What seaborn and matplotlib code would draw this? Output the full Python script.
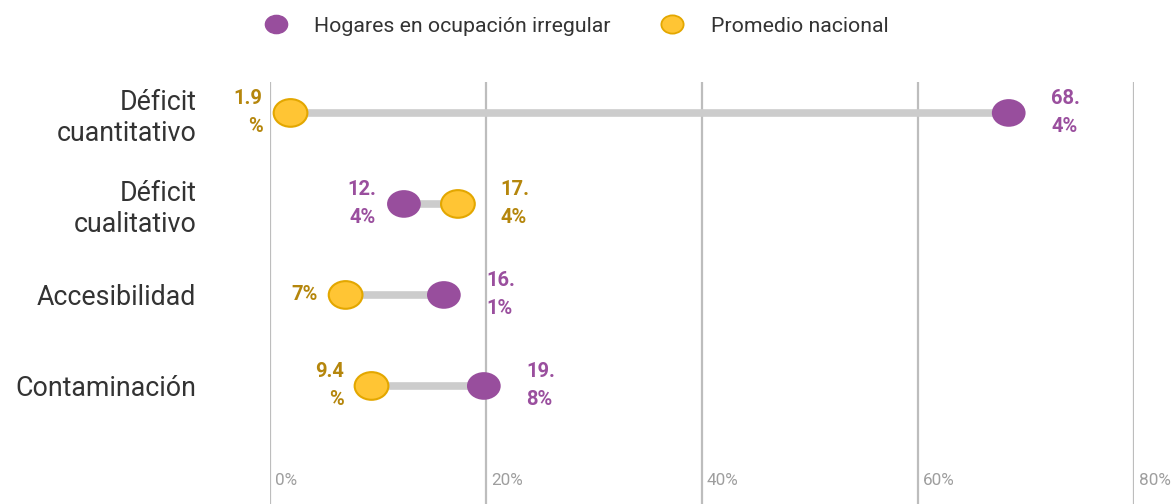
import numpy as np
import pandas as pd
import seaborn as sns
import matplotlib.pyplot as plt
from matplotlib.path import Path
from matplotlib.transforms import Affine2D
from matplotlib.lines import Line2D

# datos
categorias = ['Déficit\ncuantitativo', 'Déficit\ncualitativo', 'Accesibilidad', 'Contaminación']
hogares_irregular = [68.4, 12.4, 16.1, 19.8]
promedio_nacional = [1.9, 17.4, 7.0, 9.4]
series = ['Hogares en ocupación irregular', 'Promedio nacional']
x_ticks = [0, 20, 40, 60, 80]

PURPLE = '#984E9D'
PURPLE_TXT = '#9A4F9E'
YELLOW = '#FFC534'
YELLOW_EDGE = '#E3A700'
GOLD_TXT = '#B5860C'

sns.set_theme(style='white')
plt.rcParams['font.family'] = ['Roboto', 'DejaVu Sans']

df = pd.DataFrame({
    'cat': categorias * 2,
    'pos': list(range(len(categorias))) * 2,
    'valor': hogares_irregular + promedio_nacional,
    'serie': [series[0]] * len(categorias) + [series[1]] * len(categorias),
})

# marcador eliptico
ellipse = Path(Affine2D().scale(1.22, 1.0).transform(Path.unit_circle().vertices),
               Path.unit_circle().codes)

fig = plt.figure(figsize=(11.76, 5.04), dpi=100)
ax = fig.add_axes([270 / 1176, 0, 864 / 1176, 422 / 504])

ax.set_xlim(0, 80)
ax.set_ylim(4.297, -0.34)

for x in x_ticks:
    ax.axvline(x, color='#BDBDBD', lw=1.6, zorder=0)
    ax.text(x + 0.45, 0.055, f'{x}%', transform=ax.get_xaxis_transform(),
            ha='left', va='center', fontsize=12.3, color='#9E9E9E')

# lineas grises
for i in range(len(categorias)):
    a, b = hogares_irregular[i], promedio_nacional[i]
    ax.hlines(i, min(a, b), max(a, b), color='#CCCCCC', lw=5.5, zorder=1)

sns.scatterplot(data=df, x='valor', y='pos', hue='serie',
                palette=[PURPLE, YELLOW], marker=ellipse, s=590,
                edgecolor=None, linewidth=0, legend=False, ax=ax, zorder=3)
# borde para los amarillos
ax.collections[-1].set_edgecolors([PURPLE] * 4 + [YELLOW_EDGE] * 4)
ax.collections[-1].set_linewidths([0] * 4 + [1.5] * 4)


def etiqueta(v):
    s = f'{v:g}%'
    return '\n'.join(s[k:k + 3] for k in range(0, len(s), 3))


for i in range(len(categorias)):
    vals = [(hogares_irregular[i], PURPLE_TXT), (promedio_nacional[i], GOLD_TXT)]
    vals.sort(key=lambda t: t[0])
    (lo, clo), (hi, chi) = vals
    ax.annotate(etiqueta(lo), (lo, i), xytext=(-20, 0), textcoords='offset points',
                ha='right', va='center', multialignment='right', linespacing=1.6,
                fontsize=14.5, fontweight='bold', color=clo)
    ax.annotate(etiqueta(hi), (hi, i), xytext=(30.5, 0), textcoords='offset points',
                ha='left', va='center', multialignment='left', linespacing=1.6,
                fontsize=14.5, fontweight='bold', color=chi)

ax.set_yticks(range(len(categorias)))
ax.set_yticklabels(categorias, fontsize=19.3, color='#333333')
for lbl in ax.get_yticklabels():
    lbl.set_multialignment('right')
ax.tick_params(axis='y', length=0, pad=53)
ax.set_xticks([])
ax.set_xlabel('')
ax.set_ylabel('')
for sp in ax.spines.values():
    sp.set_visible(False)

handles = [
    Line2D([], [], ls='', marker=ellipse, markersize=16, markerfacecolor=PURPLE,
           markeredgecolor=PURPLE),
    Line2D([], [], ls='', marker=ellipse, markersize=16, markerfacecolor=YELLOW,
           markeredgecolor=YELLOW_EDGE, markeredgewidth=1.3),
]
fig.legend(handles, series, loc='upper center', bbox_to_anchor=(0.486, 1.005),
           ncol=2, frameon=False, fontsize=15.3, handletextpad=0.8,
           columnspacing=1.9, labelcolor='#333333')

fig.savefig('out.png', dpi=100)
